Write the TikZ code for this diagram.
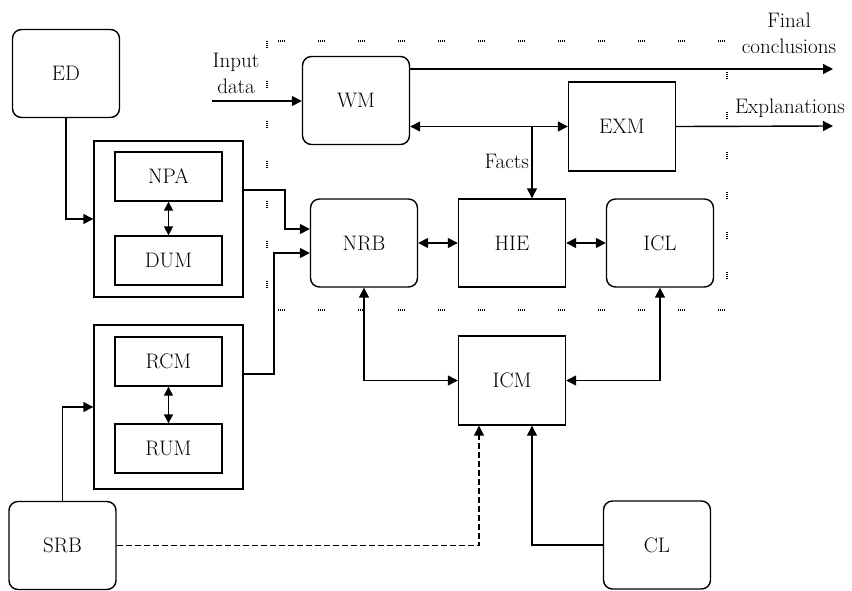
\documentclass[tikz,border=0pt]{standalone}
\usetikzlibrary{arrows.meta,calc}
\begin{document}
\begin{tikzpicture}[x=1pt,y=-1pt,
  font=\fontsize{21}{26}\selectfont,
  base/.style={draw,line width=1.4pt,inner sep=0pt,align=center},
  rbox/.style={base,rounded corners=9pt,minimum width=107pt,minimum height=88pt},
  sbox/.style={base,minimum width=107pt,minimum height=89pt},
  ibox/.style={base,minimum width=107pt,minimum height=49pt},
  obox/.style={base,minimum width=149pt},
  arr/.style={line width=1.4pt,-{Triangle[length=10pt,width=10pt]}},
  darr/.style={line width=1.4pt,{Triangle[length=10pt,width=10pt]}-{Triangle[length=10pt,width=10pt]}},
  sdarr/.style={line width=1.4pt,{Triangle[length=9pt,width=9pt]}-{Triangle[length=9pt,width=9pt]}},
  dashedarr/.style={arr,dash pattern=on 6pt off 3pt},
  frame/.style={line width=1.3pt,black,dash pattern=on 1pt off 1pt on 1pt off 1pt on 1pt off 1pt on 1pt off 33pt},
  lbl/.style={inner sep=1pt,align=center}
]
\useasboundingbox (0,0) rectangle (852,590);
% dotted frame
\draw[frame] (267,41) rectangle (727,310);
% nodes
\node[rbox] (ED) at (66,73.5) {ED};
\node[obox,minimum height=156pt] (box1) at (168.5,219) {};
\node[ibox] (NPA) at (168.5,176.5) {NPA};
\node[ibox] (DUM) at (168.5,260.5) {DUM};
\node[obox,minimum height=164pt] (box2) at (168.5,407) {};
\node[ibox] (RCM) at (168.5,361.5) {RCM};
\node[ibox] (RUM) at (168.5,448.5) {RUM};
\node[rbox] (SRB) at (62.5,545.5) {SRB};
\node[rbox] (WM) at (356,100.5) {WM};
\node[rbox] (NRB) at (364,243) {NRB};
\node[sbox,minimum height=88pt] (HIE) at (512,243) {HIE};
\node[rbox] (ICL) at (660,243) {ICL};
\node[sbox] (EXM) at (622,126.5) {EXM};
\node[sbox] (ICM) at (512,380.5) {ICM};
\node[rbox] (CL) at (657,545) {CL};
% labels
\node[lbl] (inlbl) at (236,73) {Input\\data};
\node[lbl] (fclbl) at (789,33) {Final\\conclusions};
\node[lbl] (exlbl) at (790,108) {Explanations};
\node[lbl,anchor=east] (factslbl) at (530,161) {Facts};
% coordinates for free ends
\coordinate (inp) at (212,101);
\coordinate (fc) at (833,69);
\coordinate (ex) at (833,126);
\coordinate (fb) at (532,126);
% connectors
\draw[arr] (inp) -- (inp -| WM.west);
\draw[arr] (WM.east |- fc) -- (fc);
\draw[darr] (WM.east |- EXM.west) -- (EXM.west);
\draw[arr] (fb) -- (fb |- HIE.north);
\draw[arr] (EXM.east) -- (ex);
\draw[arr] (ED.south) |- (box1.west);
\draw[sdarr] (NPA.south) -- (DUM.north);
\draw[sdarr] (RCM.south) -- (RUM.north);
\draw[arr] (box1.east |- 0,190) -| (285,229) -- (NRB.west |- 0,229);
\draw[arr] (box2.east |- 0,374) -| (274,253) -- (NRB.west |- 0,253);
\draw[arr] (SRB.north) |- (box2.west);
\draw[darr] (NRB) -- (HIE);
\draw[darr] (HIE) -- (ICL);
\draw[darr] (NRB.south) |- (ICM.west);
\draw[darr] (ICL.south) |- (ICM.east);
\draw[dashedarr] (SRB.east) -| (ICM.south -| 479,0);
\draw[arr] (CL.west) -| (ICM.south -| 532,0);
\end{tikzpicture}
\end{document}
